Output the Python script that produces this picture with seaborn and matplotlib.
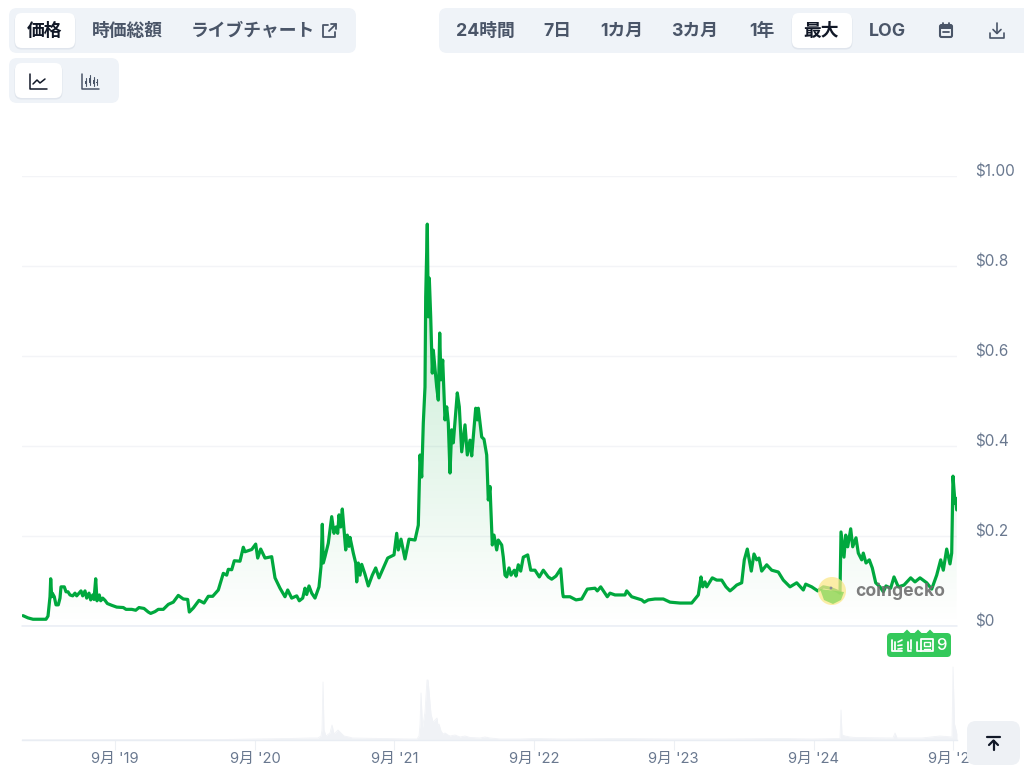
import numpy as np
import pandas as pd
import matplotlib
matplotlib.use("Agg")
import matplotlib.pyplot as plt
import seaborn as sns
from matplotlib.colors import LinearSegmentedColormap
from matplotlib.patches import FancyBboxPatch, Circle, Polygon, Rectangle
from matplotlib.lines import Line2D
from matplotlib.transforms import ScaledTranslation

START = pd.Timestamp("2019-01-01")
DAYS_PER_STEP = 2.615

price_early = [(1,.023),(6,.018),(11,.015),(24,.015),(26,.022),(28,.065),(28.7,.105),(29.7,.065),(30.3,.073),(32.3,.065),(34,.047),(36.3,.047),(38,.062),(39,.087),(42.3,.087),(44,.076),(46,.076),(48,.069),(50.7,.067),(53,.073),(54.7,.067),(59,.078),(60.7,.067),(63,.078),(64.7,.062),(67,.073),(68.7,.058),(70.7,.069),(72,.059),(73.7,.105),(75,.056),(77.3,.069),(78.7,.056),(80.7,.062),(83,.057),(85.3,.05),(89.7,.046),(94.7,.042),(101.3,.041),(104,.037),(109.7,.037),(113.7,.035),(117,.041),(122,.039),(126.3,.031),(128.7,.028),(133,.032),(136.3,.037),(141.3,.037),(146.3,.048),(151.3,.053),(156.3,.068),(161.3,.06),(165.7,.059),(167.3,.031),(171.3,.04),(177,.057),(182,.051),(186.3,.066),(190.7,.066)]
price_2020 = [(196.3,.08),(201.3,.117),(204.7,.113),(206.3,.126),(209.7,.125),(212.3,.145),(218,.144),(221.3,.175),(223,.165),(229.7,.17),(233.7,.182),(235.7,.151),(238.7,.171),(243,.151),(249.7,.154),(253,.107),(258,.084),(263,.065),(265.7,.08),(269.7,.062),(274.7,.067),(277.3,.056),(280.7,.062),(283,.084),(284.7,.07),(287,.089),(289.7,.073),(293,.062),(297,.087),(299,.132),(300.3,.226),(301.3,.14),(303,.154),(306.3,.184),(309.7,.243),(312,.206),(314,.22),(315.7,.206),(317,.247),(318.7,.22),(320.3,.26),(322.3,.206),(323.7,.169),(325.3,.202),(327,.177),(328,.197),(331.3,.162),(333.7,.14),(334.7,.098),(336.3,.14),(338,.113),(339.7,.137),(343,.115),(346.3,.089),(350.3,.113),(353.7,.129),(357,.107),(361.3,.129),(365.7,.151),(372,.158),(374.7,.206),(376.3,.169),(379,.193),(383,.149),(387,.193),(393,.191),(396.3,.224)]
price_2021 = [(398,.38),(399.7,.331),(401.3,.451),(403,.531),(403.7,.731),(405.3,.893),(406.3,.687),(407.3,.773),(408.7,.687),(410.3,.562),(411.3,.613),(414.7,.531),(416.3,.502),(417.7,.651),(419,.547),(420.7,.591),(423,.458),(424.7,.487),(426.3,.451),(428,.34),(429.7,.436),(431.3,.407),(435.3,.518),(437.3,.487),(439.7,.387),(443,.447),(445.3,.38),(448,.413),(449.7,.378),(453.7,.484),(455.3,.458),(456.3,.484),(459.7,.42),(462,.415),(464.7,.38),(466.3,.28),(468,.31),(470.3,.18),(472,.202),(474.7,.169),(476.3,.191),(479.7,.18),(481.3,.153)]
price_2022 = [(483,.113),(484.7,.109),(487,.129),(489,.113),(492.3,.124),(494,.111),(496.3,.136),(498.7,.122),(501.3,.153),(505.7,.158),(508.7,.124),(513,.124),(517.3,.109),(521.3,.124),(526.3,.109),(529.7,.104),(534,.111),(538.7,.127),(540.7,.073),(541.3,.065),(548,.065),(554,.058),(559.7,.06),(565.3,.082),(573,.084),(575.3,.078),(578.7,.087),(585.3,.065),(588,.073),(593,.069),(603,.069),(604.7,.078),(609.7,.065),(619.7,.058),(622.3,.053),(626.3,.058),(633,.06),(641.3,.06),(648,.053),(658,.051),(669.7,.051)]
price_2023 = [(676.3,.069),(679,.109),(680.7,.087),(683,.098),(684.7,.087),(690.3,.107),(694.7,.102),(699.7,.102),(704,.087),(708,.078),(711.3,.084),(714.7,.091),(719.7,.096),(722.3,.147),(725.3,.171),(727.3,.147),(729.3,.122),(732,.16),(734.7,.147),(737,.151),(739.7,.122),(744.7,.136),(749.7,.124),(756.3,.12),(761.3,.102),(768,.087),(774.7,.096),(781.3,.08),(783.7,.093),(789.7,.087),(795.7,.078),(801.3,.087),(808,.084),(814.7,.078),(818,.073)]
price_2024 = [(819,.209),(822,.153),(823.7,.202),(825.7,.176),(828.7,.216),(830.7,.176),(834,.196),(836.3,.162),(839.7,.147),(841.3,.162),(844,.14),(847.3,.147),(850.3,.129),(853.7,.096),(858,.087),(861.3,.076),(864,.089),(868.7,.084),(872,.109),(876.3,.087),(882,.091),(888.7,.107),(893,.098),(898,.107),(904.7,.096),(909.7,.082),(914.7,.113),(918.7,.147),(921.3,.124),(924.7,.171),(928,.138),(929.7,.162),(931,.333),(933,.273),(933.7,.284),(934.7,.258)]

volume_points = [(0,.3),(100,.4),(203,.5),(232,1),(268,1.5),(288,2),(296,2),(299,4),(300,10),(301,58),(302,10),(304,4),(308,7),(310,15),(312,6),(316,10),(319,7),(322,4),(329,2.5),(330,2),(388,1),(395,1),(397,4),(398,15),(399,47),(400.5,12),(403,28),(405,60),(406,60),(409,26),(411,18),(415,22),(416,14),(417,16),(419,9),(421,6),(423,7),(426,5),(428,4),(433,5),(438,3),(443,4),(448,2.5),(458,2),(463,3),(468,2),(478,1),(498,1),(513,1.5),(540,1),(600,1.5),(650,1),(700,1),(760,1.5),(790,1),(818,1.5),(819,30),(820,5),(823,4),(828,3),(833,2.5),(871,2),(873,7),(875,2),(900,2),(918,4),(930,3),(931,73),(932.5,16),(934,10),(935,6)]

tick_dates = pd.to_datetime(["2019-09-01","2020-09-01","2021-09-01","2022-09-01","2023-09-01","2024-09-01","2025-09-01"])
tick_labels = ["9月 '19","9月 '20","9月 '21","9月 '22","9月 '23","9月 '24","9月 '25"]
price_ticks = [0,.2,.4,.6,.8,1.0]
price_tick_labels = ["$0","$0.2","$0.4","$0.6","$0.8","$1.00"]
tabs_left = ["時価総額","ライブチャート"]
tabs_right = ["24時間","7日","1カ月","3カ月","1年","LOG"]

# ---- style ----
sns.set_theme(style="white")
FONT = ["Inter","Noto Sans CJK JP","DejaVu Sans"]
plt.rcParams["font.family"] = FONT
W,H = 1024,779
GREEN = "#00a83e"; TICK = "#69788f"; GREY = "#4a5568"; DARK = "#111827"; CHIP = "#eff3f8"

def to_dates(steps):
    return START + pd.to_timedelta(np.array(steps)*DAYS_PER_STEP,"D")
df = pd.DataFrame(price_early+price_2020+price_2021+price_2022+price_2023+price_2024,columns=["step","price"])
df["date"] = to_dates(df["step"].values)
vf = pd.DataFrame(volume_points,columns=["step","volume"])
vf["date"] = to_dates(vf["step"].values)
x0 = START
x1 = START + pd.to_timedelta(935*DAYS_PER_STEP,"D")

fig = plt.figure(figsize=(W/100,H/100),dpi=100,facecolor="white")
def rect(l,t,r,b): return [l/W,1-b/H,(r-l)/W,(b-t)/H]

# price panel
ax = fig.add_axes(rect(22,176,957,626))
sns.lineplot(data=df,x="date",y="price",estimator=None,sort=False,color=GREEN,lw=2.3,ax=ax,zorder=4,solid_joinstyle="round")
ax.set_xlim(x0,x1); ax.set_ylim(0,1)
ax.set_xlabel(""); ax.set_ylabel(""); ax.set_xticks([])
poly = ax.fill_between(df["date"],df["price"],0,color="none",lw=0)
cm = LinearSegmentedColormap.from_list("g",[(0,(0,.66,.24,.26)),(1,(0,.66,.24,0.0))])
im = ax.imshow(np.linspace(0,1,256).reshape(-1,1),cmap=cm,aspect="auto",zorder=2,
               extent=[matplotlib.dates.date2num(x0),matplotlib.dates.date2num(x1),0,.9],origin="upper")
im.set_clip_path(poly.get_paths()[0],transform=ax.transData)
ax.set_xlim(x0,x1); ax.set_ylim(0,1)
ax.set_yticks(price_ticks); ax.set_yticklabels(price_tick_labels)
ax.yaxis.tick_right()
ax.tick_params(axis="y",length=0,pad=13.4,labelsize=11,labelcolor=TICK)
lift = ScaledTranslation(0,4.4/100,fig.dpi_scale_trans)
for t in ax.get_yticklabels():
    t.set_va("center"); t.set_ha("left")
    t.set_transform(t.get_transform()+lift)
ax.grid(axis="y",color="#f3f4f7",lw=1); ax.grid(axis="x",visible=False)
ax.axhline(0,color="#e9edf5",lw=1.1,zorder=1,clip_on=False)
sns.despine(ax=ax,left=True,bottom=True,right=True,top=True)
ax.patch.set_alpha(0)

# volume panel
av = fig.add_axes(rect(22,660,957,740))
av.fill_between(vf["date"],vf["volume"],0,color="#f0f2f6",lw=0)
sns.lineplot(data=vf,x="date",y="volume",estimator=None,sort=False,color="#f0f2f6",lw=.6,ax=av)
av.set_xlim(x0,x1); av.set_ylim(0,80)
av.set_xlabel(""); av.set_ylabel(""); av.set_yticks([])
av.set_xticks(tick_dates); av.set_xticklabels(tick_labels)
av.tick_params(axis="x",length=7,width=.8,color="#edf0f4",pad=1.4,labelsize=10.6,labelcolor=TICK,bottom=True)
sns.despine(ax=av,left=True,top=True,right=True)
av.spines["bottom"].set_color("#e9edf3"); av.spines["bottom"].set_linewidth(1)
av.patch.set_alpha(0)

# page furniture overlay, pixel coordinates
ov = fig.add_axes([0,0,1,1],zorder=5)
ov.set_xlim(0,W); ov.set_ylim(H,0); ov.axis("off"); ov.patch.set_alpha(0)
def box(l,t,r,b,c,rad=8,z=1,**k):
    p = FancyBboxPatch((l+rad,t+rad),r-l-2*rad,b-t-2*rad,boxstyle=f"round,pad={rad},rounding_size={rad}",fc=c,ec="none",zorder=z,**k)
    ov.add_patch(p); return p
def chip(l,t,r,b):
    box(l-.5,t+1,r+.5,b+1.5,"#d5dbe4",rad=7,z=2,alpha=.55)
    box(l,t,r,b,"white",rad=7,z=3)
def lines(xs,ys,c=GREY,lw=1.2,z=6):
    ov.add_line(Line2D(xs,ys,color=c,lw=lw,zorder=z,solid_capstyle="round",solid_joinstyle="round"))
def label(x,y,s,c=GREY,fs=12.8,w="bold",z=6,**k):
    ov.text(x,y,s,color=c,fontsize=fs,fontweight=w,ha="center",va="center",zorder=z,family=FONT,**k)

box(9,8,356,53,CHIP); box(9,58,119,103,CHIP); box(439,8,1040,53,CHIP)
chip(15,13,75,48); chip(15,63,62,98); chip(792,13,852,48)
label(45,31,"価格",DARK)
for x,s in zip([127,253],tabs_left): label(x,31,s)
for x,s in zip([485,557,622,695,762,887],tabs_right): label(x,31,s)
label(821,31,"最大",DARK)

# external link icon
lines([328,323,323,335,335],[25,25,37,37,32],lw=1.3); lines([329,336],[31,24],lw=1.3); lines([331,336,336],[24,24,29],lw=1.3)
# line / candle icons
lines([30,30,47],[74,89,89],DARK,1.1); lines([33,37,40,45],[84,80,83,79],DARK,1.1)
lines([82,82,99],[74,89,89],GREY,1.1)
for x,t,b in [(86,78,86),(90,75,85),(94,77,86),(97,79,85)]:
    lines([x,x],[t,b],GREY,.8); ov.add_patch(Rectangle((x-1,t+2.5),2,b-t-5,fc=GREY,ec="none",zorder=6))
# calendar icon
ov.add_patch(FancyBboxPatch((940,25),12,12,boxstyle="round,pad=0,rounding_size=1.5",fc="none",ec=GREY,lw=1.5,zorder=6))
ov.add_patch(Rectangle((940,25),12,3.5,fc=GREY,ec="none",zorder=6))
lines([943,943],[23,25],lw=1.3); lines([949,949],[23,25],lw=1.3); lines([943,949],[32,32],lw=1.3)
# download icon
lines([997,997],[23,33],lw=1.2); lines([993,997,1001],[29.5,33.5,29.5],lw=1.2); lines([990,990,1004,1004],[33,38,38,33],lw=1.2)

# watermark
ov.add_patch(Circle((832,591),14,fc="#fbe88a",ec="none",alpha=.75,zorder=4))
ov.add_patch(Polygon([[820,589],[844,592],[841,600],[833,604],[824,600]],fc="#8fd860",ec="none",alpha=.8,zorder=4))
ov.add_patch(Circle((831,588),1.4,fc="#8a8a9a",ec="none",zorder=5))
ov.text(900.5,591,"coingecko",color="#6f6f6f",alpha=.9,fontsize=12.6,fontweight="bold",ha="center",va="center",zorder=5,family=["Inter","DejaVu Sans"])

# news badge
box(887,633,951,657,"#34c95b",rad=4,z=6)
for x in (907,918,930):
    ov.add_patch(Polygon([[x-4,633.5],[x,629.5],[x+4,633.5]],fc="#34c95b",ec="none",zorder=6))
W_ = "white"
lines([892,892,902],[640,651,651],W_,1.3,7); lines([895,895],[642,650],W_,1.3,7); lines([898,902],[642,640],W_,1.2,7); lines([898,902],[645.5,645],W_,1.2,7); lines([898,902],[649,648.5],W_,1.2,7)
lines([908,908,911],[642,651,651],W_,1.3,7); lines([911,911],[640,649],W_,1.3,7)
lines([917,917,933,933,921,921],[642,651,651,639,639,651],W_,1.3,7)
ov.add_patch(Rectangle((924,642),6,3.5,fc="none",ec=W_,lw=1,zorder=7)); lines([924,930],[648.5,648.5],W_,1,7)
label(941,645,"9","white",fs=12,w="medium",z=7)

# back-to-top button
box(967,721,1020,765,"#eef1f5",rad=9,z=6)
lines([987,1000],[737,737],DARK,1.6,7); lines([993.5,993.5],[750,741],DARK,1.6,7); lines([989,993.5,998],[745,740.5,745],DARK,1.6,7)

fig.savefig("out.png",dpi=100)
